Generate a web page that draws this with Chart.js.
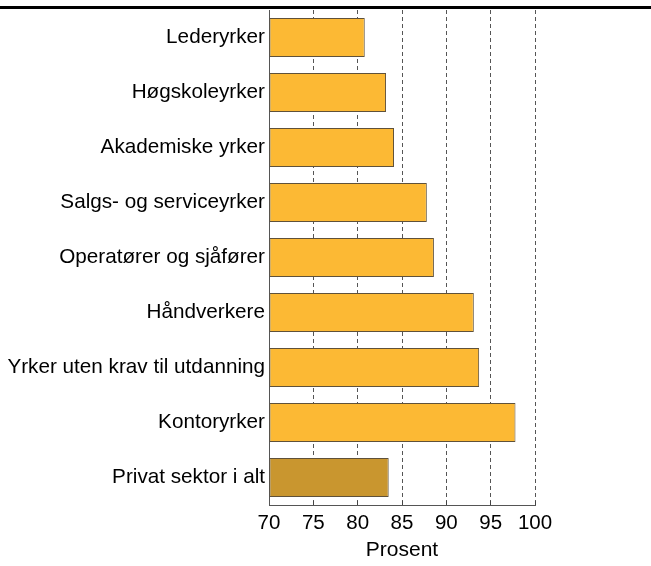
<!DOCTYPE html>
<html>
<head>
<meta charset="utf-8">
<script src="https://cdn.jsdelivr.net/npm/chart.js@4.4.1/dist/chart.umd.min.js"></script>
<style>
  html, body { margin: 0; padding: 0; background: #fff; }
  #topline { position: absolute; left: 0; top: 6px; width: 651px; height: 3px; background: #000; }
  #wrap { position: absolute; left: 0; top: 0; width: 651px; height: 566px; }
</style>
</head>
<body>
<div id="wrap"><canvas id="chart" width="651" height="566"></canvas></div>
<div id="topline"></div>
<script>
// categories and values (percent)
const categories = [
  'Lederyrker',
  'Høgskoleyrker',
  'Akademiske yrker',
  'Salgs- og serviceyrker',
  'Operatører og sjåfører',
  'Håndverkere',
  'Yrker uten krav til utdanning',
  'Kontoryrker',
  'Privat sektor i alt'
];
const values = [80.8, 83.2, 84.1, 87.8, 88.6, 93.1, 93.7, 97.8, 83.5];
const xTicks = [70, 75, 80, 85, 90, 95, 100];

const barColors = categories.map((c, i) => i === categories.length - 1 ? '#C9962F' : '#FCB934');
const fontFamily = 'Liberation Sans, Arial, sans-serif';

const ctx = document.getElementById('chart').getContext('2d');
new Chart(ctx, {
  type: 'bar',
  data: {
    labels: categories,
    datasets: [{
      data: values,
      base: 70,
      backgroundColor: barColors,
      borderColor: '#5f513a',
      borderWidth: 1,
      borderSkipped: false,
      categoryPercentage: 0.71,
      barPercentage: 1
    }]
  },
  options: {
    indexAxis: 'y',
    responsive: false,
    animation: false,
    layout: { padding: { left: 0, right: 116, top: 10, bottom: 0 } },
    plugins: { legend: { display: false }, tooltip: { enabled: false } },
    scales: {
      x: {
        min: 70,
        max: 100,
        afterBuildTicks: s => { s.ticks = xTicks.map(v => ({ value: v })); },
        afterFit: s => { s.height = 61; s.paddingLeft = 0; s.paddingRight = 0; },
        grid: {
          color: (c) => c.tick && c.tick.value === 70 ? 'rgba(0,0,0,0)' : '#555',
          lineWidth: 1,
          drawTicks: true,
          tickLength: -4,
          tickColor: '#444',
          tickBorderDash: []
        },
        border: { display: true, color: '#555', width: 1, dash: [4, 3] },
        ticks: { color: '#000', font: { family: fontFamily, size: 20.5 }, padding: 10 },
        title: { display: true, text: 'Prosent', color: '#000', font: { family: fontFamily, size: 21 }, padding: { top: 0, bottom: 3 } }
      },
      y: {
        afterFit: s => { s.width = 269; s.paddingTop = 0; s.paddingBottom = 0; },
        grid: { display: false, drawTicks: false, tickLength: 0 },
        border: { display: true, color: '#555', width: 1 },
        ticks: { color: '#000', font: { family: fontFamily, size: 20.7 }, padding: 4 }
      }
    }
  }
});
</script>
</body>
</html>
